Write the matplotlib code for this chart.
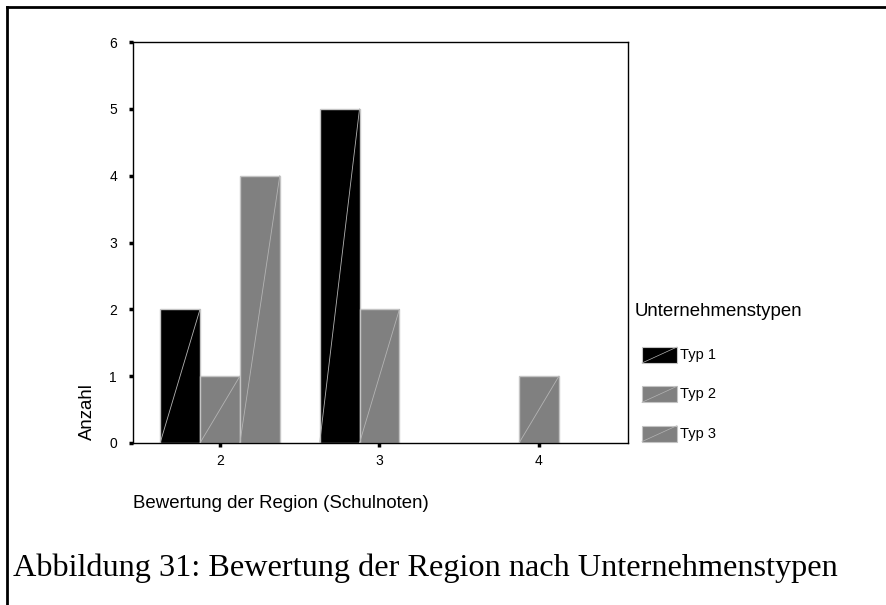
import numpy as np
import matplotlib
matplotlib.use('Agg')
import matplotlib.pyplot as plt
from matplotlib.patches import Rectangle
from matplotlib.lines import Line2D

# Data
noten = [2, 3, 4]
typ1 = [2, 5, 0]
typ2 = [1, 2, 1]
typ3 = [4, 0, 0]
serien = ['Typ 1', 'Typ 2', 'Typ 3']
farben = ['#000000', '#808080', '#808080']

plt.rcParams['font.family'] = 'Liberation Sans'

W, H = 887, 605
fig = plt.figure(figsize=(W / 100, H / 100), dpi=100)

def fx(px):
    return px / W

def fy(py):
    return 1 - py / H

ax = fig.add_axes([fx(133), fy(443), fx(628) - fx(133), fy(42) - fy(443)])

breite = 0.25
for i, (werte, farbe) in enumerate(zip([typ1, typ2, typ3], farben)):
    for x, h in zip(noten, werte):
        if h == 0:
            continue
        x0 = x + (i - 1) * breite - breite / 2
        ax.bar(x0, h, width=breite, align='edge', color=farbe,
               edgecolor='#c4c4c4', linewidth=1.0, zorder=2)
        # diagonal stroke inside the bar
        ax.plot([x0, x0 + breite], [0, h], color='#b4b4b4', lw=0.6, zorder=3)

ax.set_xlim(1.455, 4.558)
ax.set_ylim(0, 6)
ax.set_xticks(noten)
ax.set_yticks(range(0, 7))
ax.tick_params(axis='both', direction='out', length=3, width=2.5, labelsize=10,
               color='black')
ax.tick_params(axis='y', pad=8.5)
ax.tick_params(axis='x', pad=5)
for s in ax.spines.values():
    s.set_linewidth(1.0)
    s.set_color('black')

# axis labels
fig.text(fx(133), fy(508), 'Bewertung der Region (Schulnoten)', fontsize=13.4,
         ha='left', va='baseline')
fig.text(fx(87), fy(440), 'Anzahl', fontsize=13.4, rotation=90,
         ha='center', va='bottom')

# legend (drawn by hand, like the SPSS output)
fig.text(fx(635), fy(311), 'Unternehmenstypen', fontsize=13.4,
         ha='left', va='center')
for k, (name, farbe) in enumerate(zip(serien, farben)):
    yc = 355 + k * 39.3
    fig.add_artist(Rectangle((fx(642), fy(yc + 8)), fx(677) - fx(642),
                             fy(yc - 8) - fy(yc + 8), transform=fig.transFigure,
                             facecolor=farbe, edgecolor='#c4c4c4', lw=0.8))
    fig.add_artist(Line2D([fx(642), fx(677)], [fy(yc + 8), fy(yc - 8)],
                          transform=fig.transFigure, color='#b4b4b4', lw=0.5))
    fig.text(fx(680), fy(yc), name, fontsize=10.5, ha='left', va='center')

# caption
fig.text(fx(13), fy(576), 'Abbildung 31: Bewertung der Region nach Unternehmenstypen',
         fontsize=23.2, family='Liberation Serif', ha='left', va='baseline')

# frame on top and left
fig.add_artist(Line2D([fx(7), 1], [fy(7), fy(7)], transform=fig.transFigure,
                      color='black', lw=2))
fig.add_artist(Line2D([fx(7), fx(7)], [fy(7), 0], transform=fig.transFigure,
                      color='black', lw=2))

fig.savefig('out.png', dpi=100)
